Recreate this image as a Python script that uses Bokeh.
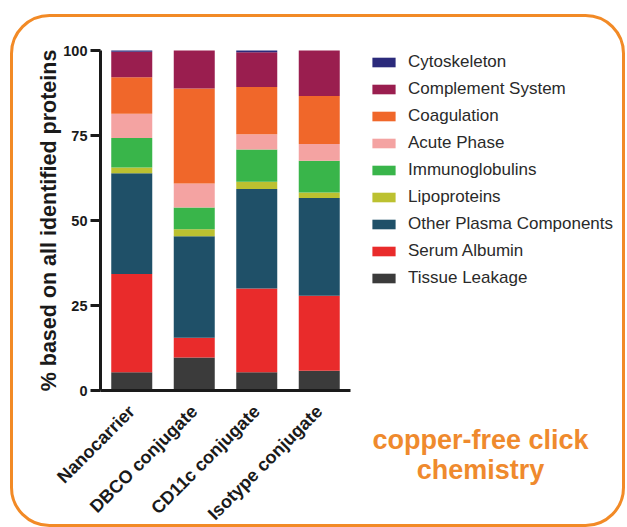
import math
from bokeh.plotting import figure
from bokeh.models import (Range1d, FixedTicker, Legend, LegendItem, Label, BoxAnnotation)
from bokeh.embed import file_html
from bokeh.resources import INLINE

# ---- data (percent of identified proteins) ----
samples = ["Nanocarrier", "DBCO conjugate", "CD11c conjugate", "Isotype conjugate"]
tissue_leakage = [5.4, 9.7, 5.4, 5.8]
serum_albumin = [28.9, 5.8, 24.6, 22.1]
other_plasma = [29.6, 29.9, 29.3, 28.7]
lipoproteins = [1.7, 2.0, 2.1, 1.6]
immunoglobulins = [8.7, 6.4, 9.5, 9.4]
acute_phase = [7.1, 7.1, 4.5, 4.9]
coagulation = [10.7, 27.9, 13.9, 14.1]
complement = [7.5, 11.2, 10.2, 13.4]
cytoskeleton = [0.4, 0.0, 0.5, 0.0]

series_names = ["Tissue Leakage", "Serum Albumin", "Other Plasma Components",
                "Lipoproteins", "Immunoglobulins", "Acute Phase", "Coagulation",
                "Complement System", "Cytoskeleton"]
series_values = [tissue_leakage, serum_albumin, other_plasma, lipoproteins,
                 immunoglobulins, acute_phase, coagulation, complement, cytoskeleton]
colors = ["#3b3b3b", "#e92b2b", "#1f5068", "#bcc130", "#39b54a", "#f4a3a2",
          "#f0672a", "#9a1e4f", "#2b2a7b"]
y_ticks = [0, 25, 50, 75, 100]
note_lines = ["copper-free click", "chemistry"]

FONT = "Liberation Sans"
ORANGE = "#ef8a2d"
AXIS_COLOR = "#1a1a1a"

# ---- layout (canvas pixels) ----
W, H = 627, 527
PLOT_L, PLOT_R, PLOT_T, PLOT_B = 100, 350, 50, 390
n = len(samples)
px_cat = (PLOT_R - PLOT_L) / n
px_val = (PLOT_B - PLOT_T) / 100.0

centers = [i + 0.5 for i in range(n)]
data = {"x": centers}
for name, vals in zip(series_names, series_values):
    data[name] = vals

p = figure(width=W, height=H, output_backend="svg", toolbar_location=None,
           x_range=Range1d(-PLOT_L / px_cat, n + (W - PLOT_R) / px_cat),
           y_range=Range1d(-(H - PLOT_B) / px_val, 100 + PLOT_T / px_val),
           min_border_left=0, min_border_right=0, min_border_top=0,
           min_border_bottom=0)
p.outline_line_color = None
p.xgrid.grid_line_color = None
p.ygrid.grid_line_color = None
p.background_fill_color = "white"
p.border_fill_color = "white"

renderers = p.vbar_stack(series_names, x="x", width=0.656, color=colors,
                         line_color=None, source=data)

# ---- axes drawn at data locations ----
xa, ya = p.xaxis[0], p.yaxis[0]
ya.fixed_location = 0
ya.bounds = (0, 100)
ya.ticker = FixedTicker(ticks=y_ticks, minor_ticks=[])
ya.axis_label = "% based on all identified proteins"
ya.axis_label_text_font = FONT
ya.axis_label_text_font_style = "bold"
ya.axis_label_text_font_size = "21.5px"
ya.axis_label_text_color = AXIS_COLOR
ya.axis_label_standoff = -1
ya.major_tick_in = 0
ya.major_tick_out = 10
ya.major_label_standoff = 3
ya.major_label_text_font_size = "14.5px"

xa.fixed_location = 0
xa.bounds = (0, n)
xa.ticker = FixedTicker(ticks=centers, minor_ticks=[])
xa.major_label_overrides = {c: s for c, s in zip(centers, samples)}
xa.major_tick_in = 0
xa.major_tick_out = 0
xa.major_label_orientation = math.pi / 4
xa.major_label_standoff = 18
xa.major_label_text_font_size = "18px"

for ax in (xa, ya):
    ax.axis_line_width = 3
    ax.axis_line_color = AXIS_COLOR
    ax.major_tick_line_width = 3
    ax.major_tick_line_color = AXIS_COLOR
    ax.minor_tick_line_color = None
    ax.major_label_text_font = FONT
    ax.major_label_text_font_style = "bold"
    ax.major_label_text_color = AXIS_COLOR

# ---- legend (top to bottom: reverse of stacking order) ----
items = [LegendItem(label=nm, renderers=[r]) for nm, r in zip(series_names, renderers)][::-1]
legend = Legend(items=items, location=(369, 239), glyph_width=29, glyph_height=12,
                label_standoff=10, spacing=6, label_height=21,
                label_text_font=FONT, label_text_font_size="17px",
                label_text_color="#2a2a2a", padding=0, margin=0,
                border_line_color=None, background_fill_alpha=0)
p.add_layout(legend)

# ---- orange note ----
for txt, yy in zip(note_lines, (439, 469)):
    p.add_layout(Label(x=480, y=yy, x_units="canvas", y_units="canvas", text=txt,
                       text_align="center", text_baseline="alphabetic",
                       text_font=FONT, text_font_style="bold",
                       text_font_size="27px", text_color=ORANGE))

# ---- rounded orange frame ----
p.add_layout(BoxAnnotation(left=11, right=623, top=15, bottom=525,
                           left_units="canvas", right_units="canvas",
                           top_units="canvas", bottom_units="canvas",
                           fill_color=None, fill_alpha=0, line_color="#f28a26",
                           line_width=3, line_alpha=1, border_radius=38))

open("out.html", "w").write(file_html(p, INLINE))
